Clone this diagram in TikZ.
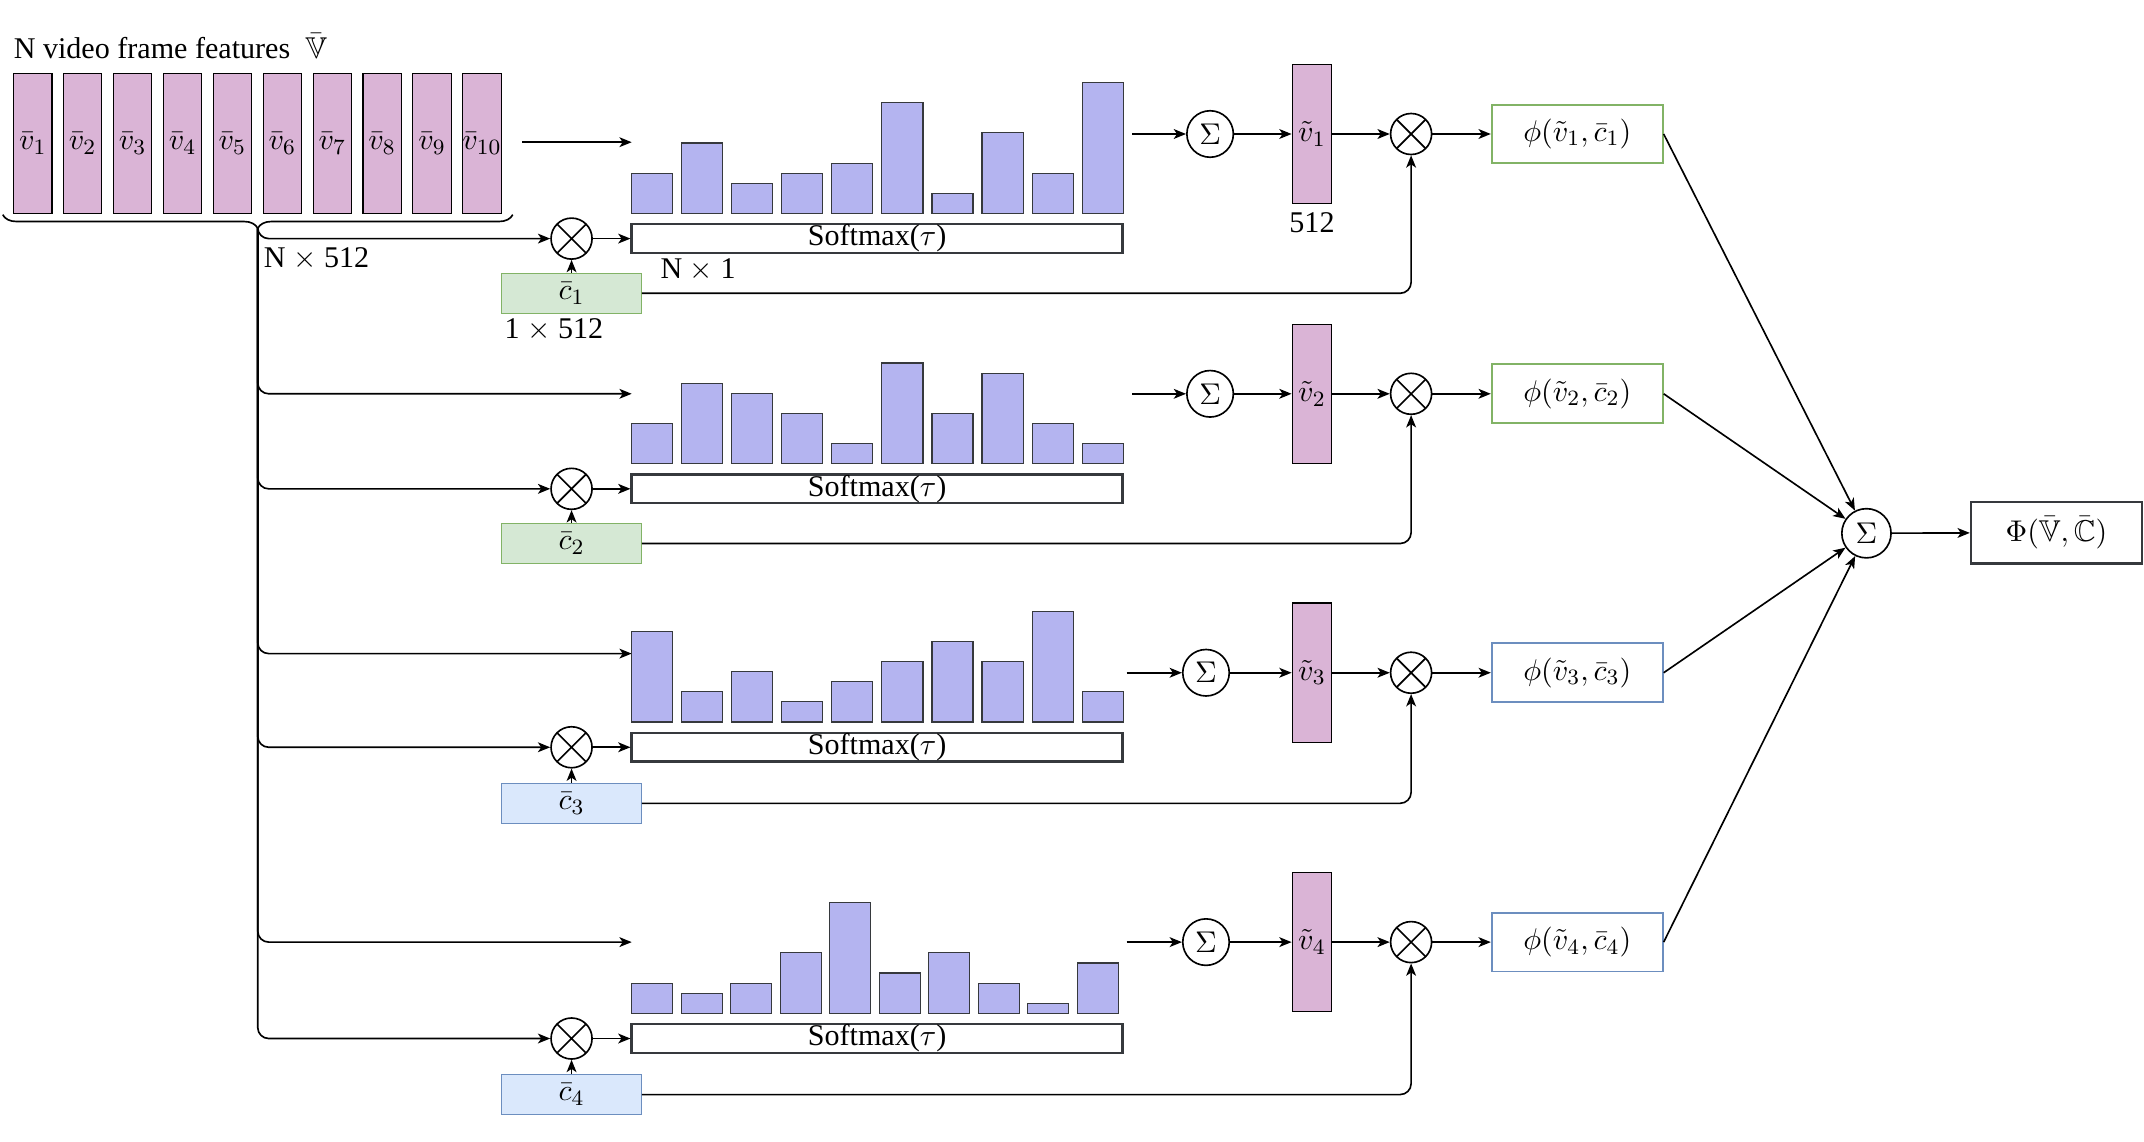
\documentclass[tikz,border=0pt]{standalone}
\usepackage[no-math]{fontspec}
\setmainfont{Liberation Serif}
\usepackage{amsmath,amssymb}
\usetikzlibrary{arrows.meta,decorations.pathreplacing}

\definecolor{featpink}{HTML}{DAB4D6}
\definecolor{barblue}{HTML}{B4B4F0}
\definecolor{barline}{HTML}{36393D}
\definecolor{greenfill}{HTML}{D5E8D4}
\definecolor{greenline}{HTML}{82B366}
\definecolor{bluefill}{HTML}{DAE8FC}
\definecolor{blueline}{HTML}{6C8EBF}

\tikzstyle{feat}=[
  rectangle,
  draw=black,
  fill=featpink,
  minimum width=14pt,
  minimum height=51pt,
  inner sep=0pt,
  line width=0.4pt,
  ]
\tikzstyle{tvec}=[ feat, minimum width=14.5pt ]
\tikzstyle{bar}=[ draw=barline, fill=barblue, line width=0.4pt ]
\tikzstyle{softbox}=[ draw=barline, line width=0.9pt, minimum width=179.5pt, minimum height=10.5pt, inner sep=0pt ]
\tikzstyle{cgreen}=[ draw=greenline, fill=greenfill, line width=0.4pt, minimum width=51pt, minimum height=14.5pt, inner sep=0pt ]
\tikzstyle{cblue}=[ cgreen, draw=blueline, fill=bluefill ]
\tikzstyle{phigreen}=[ draw=greenline, fill=white, line width=0.7pt, minimum width=62.5pt, minimum height=21.5pt, inner sep=0pt ]
\tikzstyle{phiblue}=[ phigreen, draw=blueline ]
\tikzstyle{outbox}=[ draw=barline, line width=0.9pt, minimum width=62.5pt, minimum height=22.5pt, inner sep=0pt ]
\tikzstyle{sumnode}=[ circle, draw, line width=0.6pt, minimum size=17pt, inner sep=0pt ]
\tikzstyle{mult}=[
  circle,
  draw,
  line width=0.6pt,
  minimum size=15pt,
  inner sep=0pt,
  path picture={\draw[line width=0.6pt]
    (path picture bounding box.north west) -- (path picture bounding box.south east)
    (path picture bounding box.north east) -- (path picture bounding box.south west);},
  ]
\tikzstyle{conn}=[ line width=0.6pt, -{Stealth[length=4.5pt,width=3.6pt,inset=1.2pt]} ]
\tikzstyle{plain}=[ line width=0.6pt ]

\begin{document}
\begin{tikzpicture}[
    x=0.5pt, y=-0.5pt,
    font=\fontsize{11pt}{13pt}\selectfont,
    ]
    \useasboundingbox (0,0) rectangle (1568,835);

    % input features
    \node[anchor=base west] (title) at (3,43) {N video frame features~~$\bar{\mathbb{V}}$};
    \node[feat] (v1) at (24,105) {$\bar v_1$};
    \node[feat] (v2) at (60.5,105) {$\bar v_2$};
    \node[feat] (v3) at (97,105) {$\bar v_3$};
    \node[feat] (v4) at (133.5,105) {$\bar v_4$};
    \node[feat] (v5) at (170,105) {$\bar v_5$};
    \node[feat] (v6) at (206.5,105) {$\bar v_6$};
    \node[feat] (v7) at (243,105) {$\bar v_7$};
    \node[feat] (v8) at (279.5,105) {$\bar v_8$};
    \node[feat] (v9) at (316,105) {$\bar v_9$};
    \node[feat] (v10) at (352.5,105) {$\bar v_{10}$};
    \draw[plain, decorate, decoration={brace, amplitude=5pt, mirror}] (2,157) -- (375,157);
    \coordinate (tip) at (188.5,167);
    \node[anchor=west] (dimN) at (186,189) {N $\times$ 512};

    % row 1
    \coordinate (in1s) at (382,104);
    \coordinate (in1) at (462,104);
    \draw[conn] (in1s) -- (in1);
    \foreach \h [count=\j from 0] in {4,7,3,4,5,11,2,8,4,13}
      \draw[bar] ({462+36.6*\j},156) rectangle ++(30,{-7.35*\h});
    \node[softbox] (soft1) at (641.5,174.5) {Softmax($\tau$)};
    \node[anchor=west] (dimsoft) at (476,197) {N $\times$ 1};
    \node[mult] (xa1) at (418,174.5) {};
    \node[cgreen] (c1) at (418,214.5) {$\bar c_1$};
    \node[anchor=west] (dimc) at (362,241) {1 $\times$ 512};
    \coordinate (out1) at (828,98);
    \node[sumnode] (s1) at (885,98) {$\Sigma$};
    \node[tvec] (t1) at (959.5,98) {$\tilde v_1$};
    \node (dimt) at (959.5,163) {512};
    \node[mult] (xb1) at (1032,98) {};
    \node[phigreen] (p1) at (1153.5,98) {$\phi(\tilde v_1,\bar c_1)$};
    \draw[conn, rounded corners=4pt] (tip) |- (xa1);
    \draw[conn] (c1) -- (xa1);
    \draw[conn] (xa1) -- (soft1);
    \draw[conn] (out1) -- (s1);
    \draw[conn] (s1) -- (t1);
    \draw[conn] (t1) -- (xb1);
    \draw[conn] (xb1) -- (p1);
    \draw[conn, rounded corners=4pt] (c1) -| (xb1);

    % row 2
    \coordinate (in2) at (462,288);
    \draw[conn, rounded corners=4pt] (tip) |- (in2);
    \foreach \h [count=\j from 0] in {4,8,7,5,2,10,5,9,4,2}
      \draw[bar] ({462+36.6*\j},339) rectangle ++(30,{-7.35*\h});
    \node[softbox] (soft2) at (641.5,357.5) {Softmax($\tau$)};
    \node[mult] (xa2) at (418,357.5) {};
    \node[cgreen] (c2) at (418,397.5) {$\bar c_2$};
    \coordinate (out2) at (828,288);
    \node[sumnode] (s2) at (885,288) {$\Sigma$};
    \node[tvec] (t2) at (959.5,288) {$\tilde v_2$};
    \node[mult] (xb2) at (1032,288) {};
    \node[phigreen] (p2) at (1153.5,288) {$\phi(\tilde v_2,\bar c_2)$};
    \draw[conn, rounded corners=4pt] (tip) |- (xa2);
    \draw[conn] (c2) -- (xa2);
    \draw[conn] (xa2) -- (soft2);
    \draw[conn] (out2) -- (s2);
    \draw[conn] (s2) -- (t2);
    \draw[conn] (t2) -- (xb2);
    \draw[conn] (xb2) -- (p2);
    \draw[conn, rounded corners=4pt] (c2) -| (xb2);

    % row 3
    \coordinate (in3) at (462,478);
    \draw[conn, rounded corners=4pt] (tip) |- (in3);
    \foreach \h [count=\j from 0] in {9,3,5,2,4,6,8,6,11,3}
      \draw[bar] ({462+36.6*\j},528) rectangle ++(30,{-7.35*\h});
    \node[softbox] (soft3) at (641.5,546.5) {Softmax($\tau$)};
    \node[mult] (xa3) at (418,546.5) {};
    \node[cblue] (c3) at (418,587.5) {$\bar c_3$};
    \coordinate (out3) at (824,492);
    \node[sumnode] (s3) at (882,492) {$\Sigma$};
    \node[tvec] (t3) at (959.5,492) {$\tilde v_3$};
    \node[mult] (xb3) at (1032,492) {};
    \node[phiblue] (p3) at (1153.5,492) {$\phi(\tilde v_3,\bar c_3)$};
    \draw[conn, rounded corners=4pt] (tip) |- (xa3);
    \draw[conn] (c3) -- (xa3);
    \draw[conn] (xa3) -- (soft3);
    \draw[conn] (out3) -- (s3);
    \draw[conn] (s3) -- (t3);
    \draw[conn] (t3) -- (xb3);
    \draw[conn] (xb3) -- (p3);
    \draw[conn, rounded corners=4pt] (c3) -| (xb3);

    % row 4
    \coordinate (in4) at (462,689);
    \draw[conn, rounded corners=4pt] (tip) |- (in4);
    \foreach \h [count=\j from 0] in {3,2,3,6,11,4,6,3,1,5}
      \draw[bar] ({462+36.2*\j},741) rectangle ++(30,{-7.35*\h});
    \node[softbox] (soft4) at (641.5,759.5) {Softmax($\tau$)};
    \node[mult] (xa4) at (418,759.5) {};
    \node[cblue] (c4) at (418,800.5) {$\bar c_4$};
    \coordinate (out4) at (824,689);
    \node[sumnode] (s4) at (882,689) {$\Sigma$};
    \node[tvec] (t4) at (959.5,689) {$\tilde v_4$};
    \node[mult] (xb4) at (1032,689) {};
    \node[phiblue] (p4) at (1153.5,689) {$\phi(\tilde v_4,\bar c_4)$};
    \draw[conn, rounded corners=4pt] (tip) |- (xa4);
    \draw[conn] (c4) -- (xa4);
    \draw[conn] (xa4) -- (soft4);
    \draw[conn] (out4) -- (s4);
    \draw[conn] (s4) -- (t4);
    \draw[conn] (t4) -- (xb4);
    \draw[conn] (xb4) -- (p4);
    \draw[conn, rounded corners=4pt] (c4) -| (xb4);

    % aggregation
    \node[sumnode, minimum size=18pt] (stot) at (1365,390) {$\Sigma$};
    \node[outbox] (phi) at (1504,389.5) {$\Phi(\bar{\mathbb{V}},\bar{\mathbb{C}})$};
    \draw[conn] (p1.east) -- (stot);
    \draw[conn] (p2.east) -- (stot);
    \draw[conn] (p3.east) -- (stot);
    \draw[conn] (p4.east) -- (stot);
    \draw[conn] (stot) -- (phi);
  \end{tikzpicture}
\end{document}
